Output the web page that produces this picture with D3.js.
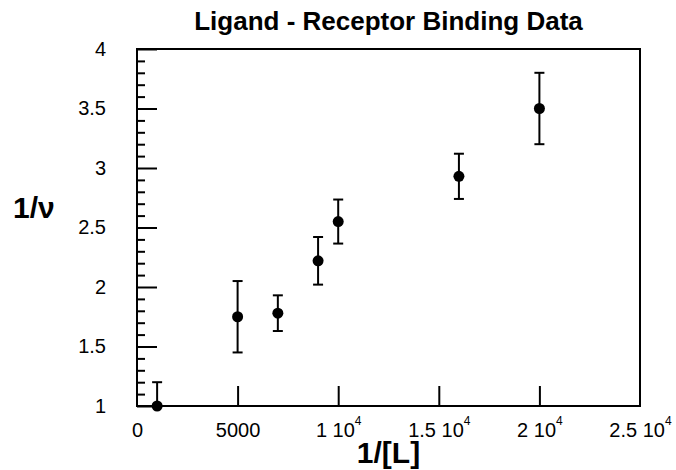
<!DOCTYPE html>
<html>
<head>
<meta charset="utf-8">
<script src="https://cdn.jsdelivr.net/npm/d3@7"></script>
<style>
  body { margin: 0; background: #fff; }
  text { font-family: "Liberation Sans", Arial, sans-serif; }
</style>
</head>
<body>
<script>
// data
var xVals = [1000, 5000, 7000, 9000, 10000, 16000, 20000];
var yVals = [1.0, 1.75, 1.78, 2.22, 2.55, 2.93, 3.50];
var yErr = [0.2, 0.3, 0.15, 0.2, 0.185, 0.19, 0.3];
var xTicks = [0, 5000, 10000, 15000, 20000, 25000];
var yTicks = [1, 1.5, 2, 2.5, 3, 3.5, 4];

var w = 676, h = 470;
var pLeft = 137, pRight = 640, pTop = 49, pBottom = 406;

var svg = d3.select('body').append('svg')
    .attr('width', w)
    .attr('height', h);

var xScale = d3.scaleLinear().domain([0, 25000]).range([pLeft, pRight]);
var yScale = d3.scaleLinear().domain([1, 4]).range([pBottom, pTop]);

// clip for error bars
svg.append('clipPath').attr('id', 'plot')
  .append('rect')
    .attr('x', pLeft).attr('y', pTop)
    .attr('width', pRight - pLeft).attr('height', pBottom - pTop);

// minor y ticks every 0.1
var minorY = d3.range(11, 40).map(d => d / 10).filter(d => Math.round(d * 10) % 5 != 0);
svg.append('g')
    .attr('transform', 'translate(' + pLeft + ',0)')
    .call(d3.axisLeft(yScale).tickValues(minorY).tickSize(-8).tickFormat(''))
    .call(g => g.select('.domain').remove());

// major y ticks
var yAxis = svg.append('g')
    .attr('transform', 'translate(' + pLeft + ',0)')
    .call(d3.axisLeft(yScale).tickValues(yTicks).tickSize(-20).tickPadding(31)
        .tickFormat(d3.format('~g')));
yAxis.select('.domain').remove();

// x ticks (no tick at the corners)
var xAxis = svg.append('g')
    .attr('transform', 'translate(0,' + pBottom + ')')
    .call(d3.axisBottom(xScale).tickValues(xTicks).tickSize(-20).tickPadding(17)
        .tickFormat(d => d < 10000 ? String(d) : String(d / 10000) + ' 10'));
xAxis.select('.domain').remove();
xAxis.selectAll('.tick').filter(d => d == 0 || d == 25000).select('line').remove();
xAxis.selectAll('.tick text').filter(d => d >= 10000)
  .append('tspan')
    .attr('dy', '-1em')
    .attr('font-size', 12)
    .text('4');

svg.selectAll('.tick line').attr('stroke', '#000').attr('stroke-width', 2);
svg.selectAll('.tick text').attr('font-size', 20).attr('fill', '#000');

// frame
svg.append('rect')
    .attr('x', pLeft).attr('y', pTop)
    .attr('width', pRight - pLeft).attr('height', pBottom - pTop)
    .attr('fill', 'none')
    .attr('stroke', '#000')
    .attr('stroke-width', 2);

// error bars
var bars = svg.append('g').attr('clip-path', 'url(#plot)')
    .attr('stroke', '#000').attr('stroke-width', 2);
xVals.forEach(function (x, i) {
    var cx = xScale(x);
    var y0 = yScale(yVals[i] - yErr[i]);
    var y1 = yScale(yVals[i] + yErr[i]);
    bars.append('line').attr('x1', cx).attr('x2', cx).attr('y1', y0).attr('y2', y1);
    bars.append('line').attr('x1', cx - 5).attr('x2', cx + 5).attr('y1', y0).attr('y2', y0);
    bars.append('line').attr('x1', cx - 5).attr('x2', cx + 5).attr('y1', y1).attr('y2', y1);
});

// points
svg.selectAll('circle')
    .data(xVals)
    .enter()
    .append('circle')
    .attr('cx', d => xScale(d))
    .attr('cy', (d, i) => yScale(yVals[i]))
    .attr('r', 5.5)
    .attr('fill', '#000');

// title and axis labels
svg.append('text')
    .attr('x', (pLeft + pRight) / 2).attr('y', 30)
    .attr('text-anchor', 'middle')
    .attr('font-size', 26).attr('font-weight', 'bold')
    .text('Ligand - Receptor Binding Data');

svg.append('text')
    .attr('x', (pLeft + pRight) / 2).attr('y', 463)
    .attr('text-anchor', 'middle')
    .attr('font-size', 30).attr('font-weight', 'bold')
    .text('1/[L]');

svg.append('text')
    .attr('x', 13).attr('y', 218)
    .attr('font-size', 30).attr('font-weight', 'bold')
    .text('1/\u03bd');
</script>
</body>
</html>
